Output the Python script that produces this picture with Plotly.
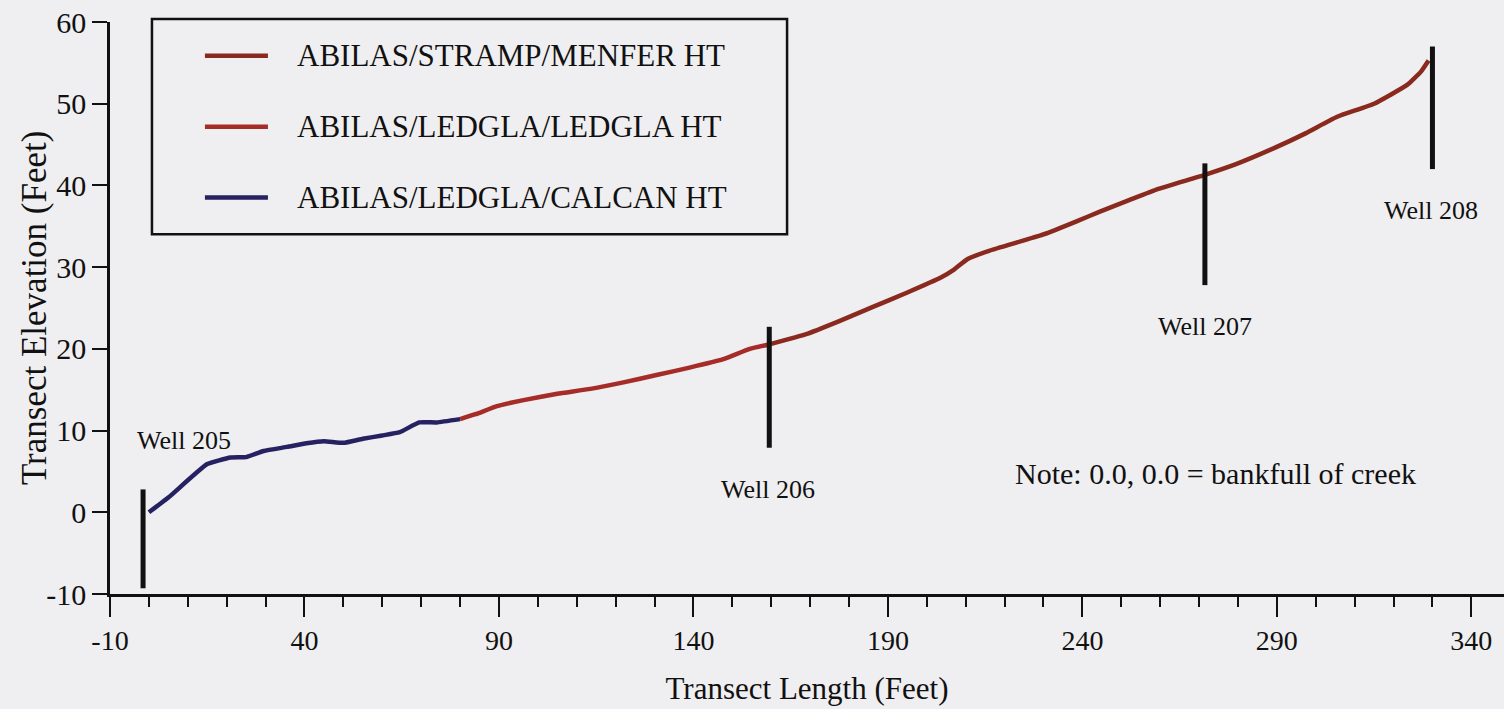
import plotly.graph_objects as go

# Transect profile segments (distance along transect in feet, elevation in feet)
calcan_x = [0, 5, 15, 21, 25, 29.5, 35.5, 40.5, 45, 50, 55, 60, 64.5, 69.5, 74, 80]
calcan_y = [0, 1.8, 5.9, 6.7, 6.75, 7.5, 8.0, 8.45, 8.7, 8.5, 9.0, 9.4, 9.8, 11.0, 11.0, 11.4]

ledgla_x = [80, 84, 89.5, 96, 105, 113.5, 122, 130.5, 139, 147.5, 154.5, 160]
ledgla_y = [11.4, 12.0, 13.0, 13.7, 14.5, 15.1, 15.9, 16.8, 17.7, 18.7, 20.0, 20.6]

stramp_x = [160, 169, 177.5, 186, 195, 203.5, 207, 210.5, 216, 230, 238.5, 244.5,
            252, 259, 271.5, 279.5, 289, 297.5, 305.5, 315, 323.5, 327, 329]
stramp_y = [20.6, 21.8, 23.4, 25.1, 26.9, 28.7, 29.7, 31.0, 32.0, 34.0, 35.6, 36.8,
            38.2, 39.5, 41.3, 42.6, 44.5, 46.4, 48.4, 50.0, 52.3, 53.9, 55.3]

series_names = ["ABILAS/STRAMP/MENFER HT", "ABILAS/LEDGLA/LEDGLA HT", "ABILAS/LEDGLA/CALCAN HT"]

# Monitoring wells: location and vertical extent of each marker
well_names = ["Well 205", "Well 206", "Well 207", "Well 208"]
well_x = [-1.5, 159.5, 271.5, 330]
well_bottom = [-9.3, 7.9, 27.8, 42.0]
well_top = [2.8, 22.7, 42.7, 57.0]

x_tick_vals = [-10, 40, 90, 140, 190, 240, 290, 340]
x_tick_text = ["-10", "40", "90", "140", "190", "240", "290", "340"]
y_tick_vals = [-10, 0, 10, 20, 30, 40, 50, 60]
y_tick_text = ["-10", "0", "10", "20", "30", "40", "50", "60"]

note_text = "Note: 0.0, 0.0 = bankfull of creek"

# styling / placement
FONT = "Liberation Serif"
INK = "#111111"
BG = "#efeef0"
line_colors = ["#8a2a1f", "#a52c27", "#262262"]
label_pos = [(9.0, 8.8), (159.3, 2.8), (271.6, 22.7), (329.7, 36.9)]
legend_rows_y = [0.941, 0.817, 0.693]   # paper y of each legend row

fig = go.Figure()

segments = [(stramp_x, stramp_y), (ledgla_x, ledgla_y), (calcan_x, calcan_y)]
for i, ((xs, ys), name) in enumerate(zip(segments, series_names)):
    fig.add_trace(go.Scatter(
        x=xs, y=ys, mode="lines", name=name, showlegend=False,
        line=dict(color=line_colors[i], width=4.5, shape="spline", smoothing=0.4),
    ))

for wx, wb, wt in zip(well_x, well_bottom, well_top):
    fig.add_trace(go.Scatter(
        x=[wx, wx], y=[wb, wt], mode="lines", showlegend=False,
        line=dict(color=INK, width=5), hoverinfo="skip",
    ))

for name, (lx, ly) in zip(well_names, label_pos):
    fig.add_annotation(x=lx, y=ly, text=name, showarrow=False,
                       font=dict(family=FONT, size=26, color=INK))

fig.add_annotation(x=274.1, y=4.8, text=note_text, showarrow=False,
                   font=dict(family=FONT, size=30, color=INK))

# boxed key in the upper-left corner
fig.add_shape(type="rect", xref="paper", yref="paper",
              x0=0.0301, x1=0.4857, y0=0.629, y1=1.0052,
              line=dict(color=INK, width=2.5), layer="above")
for name, color, ry in zip(series_names, line_colors, legend_rows_y):
    fig.add_shape(type="line", xref="paper", yref="paper",
                  x0=0.0681, x1=0.1133, y0=ry, y1=ry,
                  line=dict(color=color, width=4.5), layer="above")
    fig.add_annotation(xref="paper", yref="paper", x=0.1327, y=ry,
                       xanchor="left", yanchor="middle", text=name, showarrow=False,
                       font=dict(family=FONT, size=31, color=INK))

# y-axis title placed explicitly
fig.add_annotation(xref="paper", yref="paper", x=-0.0545, y=0.5,
                   xanchor="center", yanchor="middle", textangle=-90,
                   text="Transect Elevation (Feet)", showarrow=False,
                   font=dict(family=FONT, size=35, color=INK))

fig.update_layout(
    width=1504, height=709,
    margin=dict(l=110, r=0, t=22, b=115),
    paper_bgcolor=BG, plot_bgcolor=BG,
    font=dict(family=FONT, color=INK),
    showlegend=False,
    xaxis=dict(
        range=[-10, 348.4], tickvals=x_tick_vals, ticktext=x_tick_text,
        showline=True, linecolor=INK, linewidth=2.5,
        ticks="outside", ticklen=20, tickwidth=2, tickcolor=INK,
        minor=dict(dtick=10, tick0=-10, ticks="outside", ticklen=10,
                   tickwidth=1.5, tickcolor=INK),
        showgrid=False, zeroline=False,
        tickfont=dict(family=FONT, size=28),
        title=dict(text="Transect Length (Feet)", font=dict(family=FONT, size=31), standoff=22),
    ),
    yaxis=dict(
        range=[-10, 60], tickvals=y_tick_vals, ticktext=y_tick_text,
        showline=True, linecolor=INK, linewidth=2.5,
        ticks="outside", ticklen=15, tickwidth=2, tickcolor=INK,
        showgrid=False, zeroline=False,
        tickfont=dict(family=FONT, size=30),
    ),
)

fig.write_html("out.html")
